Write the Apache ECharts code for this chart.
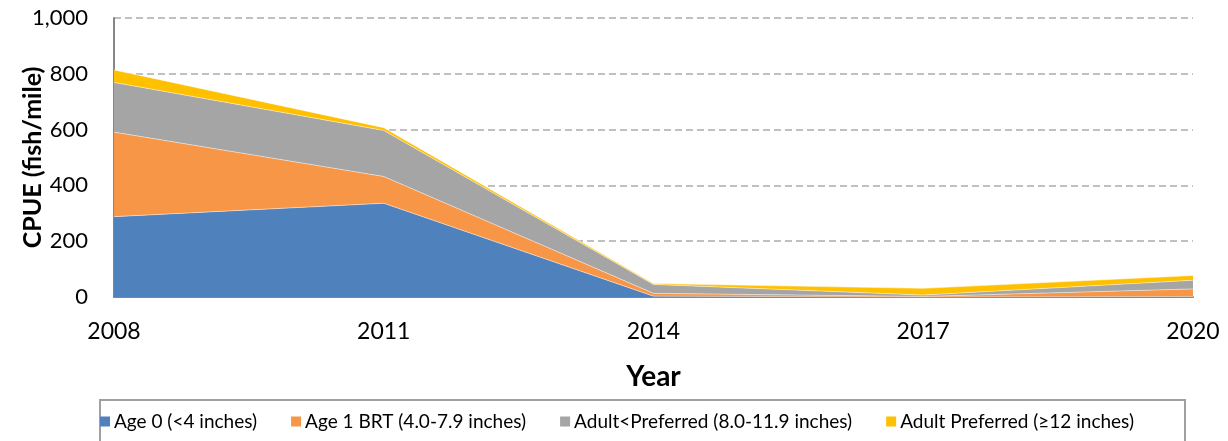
<!DOCTYPE html>
<html>
<head>
<meta charset="utf-8">
<script src="https://cdn.jsdelivr.net/npm/echarts@6/dist/echarts.min.js"></script>
<style>
  html, body { margin: 0; padding: 0; background: #fff; }
  #chart { width: 1228px; height: 441px; }
</style>
</head>
<body>
<div id="chart"></div>
<script>
// 年份（横轴）
let years = ['2008', '2011', '2014', '2017', '2020'];
// 各体长组的 CPUE（fish/mile）
let age0 = [288, 336, 3, 0, 2];
let age1 = [303, 96, 10, 2, 27];
let adultLess = [178, 165, 32, 5, 31];
let adultPref = [45, 10, 3, 24, 17];
// 纵轴刻度
let yMin = 0, yMax = 1000, yStep = 200;

let names = [
  'Age 0 (<4 inches)',
  'Age 1 BRT (4.0-7.9 inches)',
  'Adult<Preferred (8.0-11.9 inches)',
  'Adult Preferred (\u226512 inches)'
];
let colors = ['#4f81bd', '#f79646', '#a5a5a5', '#ffc000'];
let seriesData = [age0, age1, adultLess, adultPref];

let font = 'Lato, "Open Sans", sans-serif';

let myChart = echarts.init(document.getElementById('chart'));
myChart.setOption({
  animation: false,
  color: colors,
  textStyle: { fontFamily: font },
  grid: { left: 114, right: 35, top: 18, bottom: 144, containLabel: false, outerBoundsMode: 'none' },
  // 图例外框，单独画出来好控制位置
  graphic: [{
    type: 'rect',
    shape: { x: 100, y: 400, width: 1085, height: 60 },
    style: { fill: 'none', stroke: '#a0a0a0', lineWidth: 2 },
    silent: true
  }],
  legend: {
    data: names,
    top: 412,
    left: 100,
    itemWidth: 10,
    itemHeight: 10,
    itemGap: 34,
    icon: 'rect',
    padding: 0,
    textStyle: { fontSize: 19, color: '#000', fontFamily: font, padding: [0, 0, 0, -1] }
  },
  xAxis: {
    type: 'category',
    data: years,
    boundaryGap: false,
    name: 'Year',
    nameLocation: 'middle',
    nameGap: 66,
    nameMoveOverlap: false,
    nameTextStyle: { fontSize: 28, fontWeight: 'bold', color: '#000', fontFamily: font },
    axisLine: { lineStyle: { color: '#868686', width: 2 } },
    axisTick: { show: false },
    axisLabel: { fontSize: 23, color: '#000', margin: 23, fontFamily: font },
    splitLine: { show: false }
  },
  yAxis: {
    type: 'value',
    min: yMin,
    max: yMax,
    interval: yStep,
    name: 'CPUE (fish/mile)',
    nameLocation: 'middle',
    nameGap: 69,
    nameMoveOverlap: false,
    nameTextStyle: { fontSize: 25, fontWeight: 'bold', color: '#000', fontFamily: font },
    axisLine: { show: true, lineStyle: { color: '#868686', width: 2 } },
    axisTick: { show: false },
    axisLabel: {
      fontSize: 22, color: '#000', margin: 26, fontFamily: font,
      formatter: function (v) { return v.toLocaleString('en-US'); }
    },
    splitLine: { lineStyle: { color: '#c0c0c0', width: 2, type: [7, 4] } }
  },
  series: seriesData.map(function (d, i) {
    return {
      name: names[i],
      type: 'line',
      stack: 'total',
      data: d,
      symbol: 'none',
      lineStyle: { width: 0.8, color: '#ffffff', opacity: 0.6 },
      areaStyle: { color: colors[i], opacity: 1 },
      itemStyle: { color: colors[i] }
    };
  })
});
</script>
</body>
</html>
